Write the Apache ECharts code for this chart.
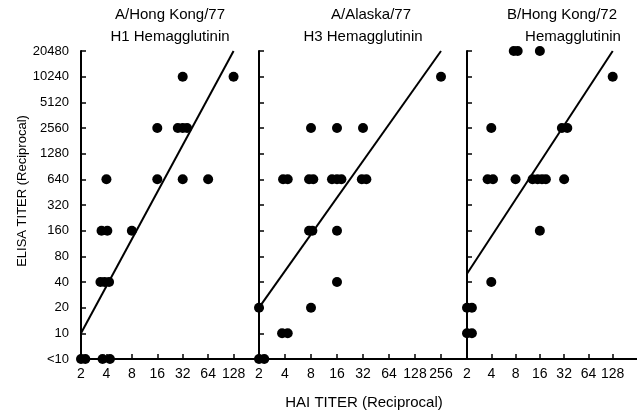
<!DOCTYPE html>
<html>
<head>
<meta charset="utf-8">
<script src="https://cdn.jsdelivr.net/npm/echarts@6/dist/echarts.min.js"></script>
<style>
  html, body { margin: 0; padding: 0; background: #fff; }
  #main { width: 637px; height: 413px; }
</style>
</head>
<body>
<div id="main"></div>
<script>
// ELISA titers are plotted on a doubling scale, "<10" is stored as 5
var ELISA_FLOOR = 5;
var yTickLabels = ['<10', '10', '20', '40', '80', '160', '320', '640', '1280', '2560', '5120', '10240', '20480'];

var panelTitles = [
  ['A/Hong Kong/77', 'H1 Hemagglutinin'],
  ['A/Alaska/77', 'H3 Hemagglutinin'],
  ['B/Hong Kong/72', 'Hemagglutinin']
];

// [HAI titer, ELISA titer]  (overlapping dots are spread a little around their titer)
var hongKong77 = [
  [32, 10240], [128, 10240],
  [16, 2560], [28, 2560], [32, 2560], [36, 2560],
  [4, 640], [16, 640], [32, 640], [64, 640],
  [3.5, 160], [4.1, 160], [8, 160],
  [3.4, 40], [3.8, 40], [4.3, 40],
  [2, 5], [2.25, 5], [3.6, 5], [4.4, 5]
];
var alaska77 = [
  [256, 10240],
  [8, 2560], [16, 2560], [32, 2560],
  [3.8, 640], [4.3, 640], [7.6, 640], [8.5, 640], [14, 640], [16, 640], [18, 640], [31, 640], [35, 640],
  [7.6, 160], [8.3, 160], [16, 160],
  [16, 40],
  [2, 20], [8, 20],
  [3.7, 10], [4.3, 10],
  [2, 5], [2.3, 5]
];
var bHongKong72 = [
  [7.6, 20480], [8.5, 20480], [16, 20480],
  [128, 10240],
  [4, 2560], [30, 2560], [35, 2560],
  [3.6, 640], [4.2, 640], [8, 640], [13, 640], [15, 640], [17, 640], [19, 640], [32, 640],
  [16, 160],
  [4, 40],
  [2, 20], [2.3, 20],
  [2, 10], [2.3, 10]
];

// regression lines, end points
var hongKong77Fit = [[2, 10], [128, 20480]];
var alaska77Fit = [[2, 20], [256, 20480]];
var bHongKong72Fit = [[2, 50], [128, 20480]];

var panelPoints = [hongKong77, alaska77, bHongKong72];
var panelFits = [hongKong77Fit, alaska77Fit, bHongKong72Fit];
var xMax = [256, 512, 256];

var FONT = "'Liberation Sans', Arial, sans-serif";

function toPlot(list) {
  return list.map(function (p) { return [p[0], p[1] / ELISA_FLOOR]; });
}

var chart = echarts.init(document.getElementById('main'), null, { renderer: 'canvas' });

var grids = [
  { left: 81, top: 51, width: 178, height: 308 },
  { left: 259, top: 51, width: 208, height: 308 },
  { left: 467, top: 51, width: 181, height: 308 }
];

var xAxes = [], yAxes = [], series = [], graphics = [];

for (var i = 0; i < 3; i++) {
  xAxes.push({
    type: 'log',
    logBase: 2,
    gridIndex: i,
    min: 2,
    max: xMax[i],
    interval: 1,
    axisLine: { lineStyle: { color: '#000', width: 2 } },
    axisTick: { inside: true, length: 5, lineStyle: { color: '#000', width: 1.5 } },
    axisLabel: { color: '#000', fontSize: 14, fontFamily: FONT, margin: 8, showMaxLabel: false },
    splitLine: { show: false }
  });
  yAxes.push({
    type: 'log',
    logBase: 2,
    gridIndex: i,
    min: 1,
    max: 4096,
    interval: 1,
    axisLine: { lineStyle: { color: '#000', width: 2 } },
    axisTick: { inside: true, length: 5, lineStyle: { color: '#000', width: 1.5 } },
    axisLabel: {
      show: i === 0,
      color: '#000', fontSize: 13, fontFamily: FONT, margin: 12,
      formatter: function (v, idx) { return yTickLabels[idx]; }
    },
    splitLine: { show: false }
  });
  series.push({
    type: 'line',
    xAxisIndex: i, yAxisIndex: i,
    data: toPlot(panelFits[i]),
    symbol: 'none',
    lineStyle: { color: '#000', width: 2 },
    silent: true,
    z: 2
  });
  series.push({
    type: 'scatter',
    xAxisIndex: i, yAxisIndex: i,
    data: toPlot(panelPoints[i]),
    symbolSize: 10,
    itemStyle: { color: '#000', opacity: 1 },
    clip: false,
    z: 3
  });
}

// panel titles
var titlePos = [[[170, 15], [170, 37]], [[371, 15], [363, 37]], [[562, 15], [573, 37]]];
panelTitles.forEach(function (lines, i) {
  lines.forEach(function (t, j) {
    graphics.push({
      type: 'text',
      x: titlePos[i][j][0], y: titlePos[i][j][1],
      style: { text: t, fill: '#000', font: '15px ' + FONT, textAlign: 'center', textVerticalAlign: 'middle' }
    });
  });
});
graphics.push({
  type: 'text', x: 364, y: 403,
  style: { text: 'HAI TITER (Reciprocal)', fill: '#000', font: '15px ' + FONT, textAlign: 'center', textVerticalAlign: 'middle' }
});
graphics.push({
  type: 'text', x: 22, y: 191, rotation: Math.PI / 2,
  style: { text: 'ELISA TITER (Reciprocal)', fill: '#000', font: '13px ' + FONT, textAlign: 'center', textVerticalAlign: 'middle' }
});

chart.setOption({
  animation: false,
  backgroundColor: '#fff',
  grid: grids,
  xAxis: xAxes,
  yAxis: yAxes,
  series: series,
  graphic: graphics
});
</script>
</body>
</html>
